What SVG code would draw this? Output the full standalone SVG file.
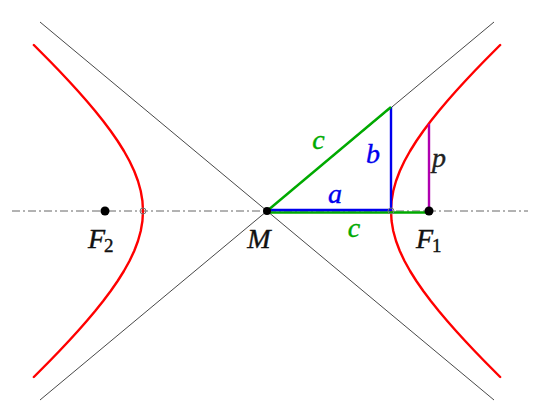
<svg xmlns="http://www.w3.org/2000/svg" width="540" height="420" viewBox="0 0 540 420">
<style>
.asym{stroke:#333;stroke-width:0.9;fill:none}
.axis{stroke:#666;stroke-width:1;stroke-dasharray:8 3 2 3;fill:none}
.hyp{stroke:#ff0000;stroke-width:2.4;fill:none;stroke-linejoin:round;stroke-linecap:round}
.seg{stroke-width:2.4;fill:none;stroke-linecap:butt}
text{font-family:"Liberation Serif","DejaVu Serif",serif;font-style:italic;font-size:28px;stroke-width:0.4}
.lbl{text-anchor:middle}
.lbs{text-anchor:start}
.sub{font-style:normal;font-size:19px}
</style>
<rect width="540" height="420" fill="#fff"/>
<g id="connectors">
<line class="asym" x1="40" y1="22" x2="494" y2="400"/>
<line class="asym" x1="40" y1="400" x2="494" y2="22"/>
<line class="axis" x1="12" y1="211" x2="528" y2="211"/>
<polyline class="hyp" points="500.16,45 484.28,61 474.62,71 465.21,81 456.07,91 447.26,101 438.83,111 430.82,121 423.30,131 416.36,141 410.07,151 404.52,161 399.81,171 396.03,181 393.26,191 391.57,201 391,211 391.57,221 393.26,231 396.03,241 399.81,251 404.52,261 410.07,271 416.36,281 423.30,291 430.82,301 438.83,311 447.26,321 456.07,331 465.21,341 474.62,351 484.28,361 500.16,377"/>
<polyline class="hyp" points="33.84,45 49.72,61 59.38,71 68.79,81 77.93,91 86.74,101 95.17,111 103.18,121 110.70,131 117.64,141 123.93,151 129.48,161 134.19,171 137.97,181 140.74,191 142.43,201 143,211 142.43,221 140.74,231 137.97,241 134.19,251 129.48,261 123.93,271 117.64,281 110.70,291 103.18,301 95.17,311 86.74,321 77.93,331 68.79,341 59.38,351 49.72,361 33.84,377"/>
<line class="seg" x1="267" y1="212.5" x2="429" y2="212.5" stroke="#00aa00"/>
<line class="seg" x1="267" y1="210" x2="391" y2="210" stroke="#0000ee"/>
<line class="seg" x1="391" y1="211" x2="391" y2="107" stroke="#0000ee"/>
<line class="seg" x1="267" y1="211" x2="391" y2="107" stroke="#00aa00"/>
<line class="seg" x1="429" y1="211" x2="429" y2="124" stroke="#b000b0"/>
</g>
<g id="vertex-left"><circle cx="143" cy="211" r="3" fill="none" stroke="#777" stroke-width="1"/></g>
<g id="vertex-right"><circle cx="391" cy="211" r="3" fill="none" stroke="#777" stroke-width="1"/></g>
<g id="node-M"><circle cx="267" cy="211" r="4" fill="#000"/><text class="lbl" x="259" y="248" fill="#111" stroke="#111">M</text></g>
<g id="node-F1"><circle cx="429" cy="211" r="4.5" fill="#000"/><text class="lbs" x="416" y="248" fill="#111" stroke="#111">F<tspan class="sub" dx="-1" dy="4">1</tspan></text></g>
<g id="node-F2"><circle cx="105" cy="211" r="4.5" fill="#000"/><text class="lbs" x="88" y="248" fill="#111" stroke="#111">F<tspan class="sub" dx="-1" dy="4">2</tspan></text></g>
<g id="labels">
<text class="lbl" x="318.5" y="149" fill="#00aa00" stroke="#00aa00">c</text>
<text class="lbl" x="373" y="163" fill="#0000ee" stroke="#0000ee">b</text>
<text class="lbl" x="335" y="203" fill="#0000ee" stroke="#0000ee">a</text>
<text class="lbl" x="354" y="237" fill="#00aa00" stroke="#00aa00">c</text>
<text class="lbl" x="439" y="167" fill="#222" stroke="#222">p</text>
</g>
</svg>
